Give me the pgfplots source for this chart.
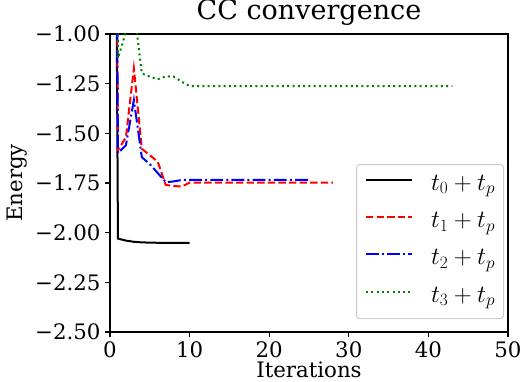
\documentclass[border=0pt]{standalone}
\usepackage{fontspec}
\setmainfont{DejaVu Serif}
\usepackage{pgfplots}
\pgfplotsset{compat=1.18}
\definecolor{mplgreen}{rgb}{0,0.5,0}
\begin{document}
\begin{tikzpicture}[x=1pt,y=1pt]
\path[use as bounding box] (0,0) rectangle (530,382);
\begin{axis}[
  at={(110pt,50pt)}, anchor=south west,
  width=398pt, height=298pt, scale only axis,
  xmin=0, xmax=50, ymin=-2.5, ymax=-1.0,
  /pgf/number format/assume math mode=true,
  xtick={0,10,20,30,40,50},
  xticklabels={0,10,20,30,40,50},
  ytick={-2.5,-2.25,-2.0,-1.75,-1.5,-1.25,-1.0},
  yticklabels={−2.50,−2.25,−2.00,−1.75,−1.50,−1.25,−1.00},
  tick align=outside, tick pos=left,
  major tick length=4.67pt,
  tick style={black, line width=1.07pt},
  axis line style={line width=1.07pt},
  ticklabel style={font=\fontsize{21.3}{25}\selectfont, inner sep=0pt},
  yticklabel style={xshift=-4.67pt},
  xticklabel style={yshift=-4.67pt},
  title={CC convergence},
  title style={font=\fontsize{27}{32}\selectfont, anchor=base, at={(0.5,1)}, yshift=8pt, inner sep=0pt},
  xlabel={Iterations}, ylabel={Energy},
  label style={font=\fontsize{21.3}{25}\selectfont},
  xlabel style={at={(axis description cs:0.5,0)}, anchor=base, yshift=-46pt, inner sep=0pt},
  ylabel style={at={(axis description cs:-0.2324,0.5)}, anchor=center, inner sep=0pt},
  legend style={at={(0.99,0.0436)}, anchor=south east, draw=black!20, line width=1pt,
    rounded corners=3pt, fill=white, font=\fontsize{23.5}{27}\selectfont,
    nodes={inner sep=0pt, text height=15pt, text depth=6pt},
    row sep=16.3pt, column sep=18pt, inner xsep=8.5pt, inner ysep=10.5pt},
  legend cell align=left,
  legend image code/.code={\draw[#1] (0pt,6pt) -- (46pt,6pt);},
]
\addplot[black, line width=2pt] coordinates {
(0,5) (1,-2.030) (2,-2.040) (3,-2.046) (4,-2.049) (5,-2.050) (6,-2.051) (7,-2.051) (8,-2.051) (9,-2.051) (10,-2.051)};
\addlegendentry{$t_0+t_p$}
\addplot[red, line width=2pt, dash pattern=on 7.4pt off 3.2pt] coordinates {
(0,5) (1,-1.585) (2,-1.52) (3,-1.173) (4,-1.578) (5,-1.61) (6,-1.643) (7,-1.76) (8,-1.765) (9,-1.768) (10,-1.748)
(11,-1.748) (12,-1.748) (13,-1.748) (14,-1.748) (15,-1.748) (16,-1.748) (17,-1.748) (18,-1.748) (19,-1.748) (20,-1.748)
(21,-1.748) (22,-1.748) (23,-1.748) (24,-1.748) (25,-1.748) (26,-1.748) (27,-1.748) (28,-1.748)};
\addlegendentry{$t_1+t_p$}
\addplot[blue, line width=2pt, dash pattern=on 12.8pt off 3.2pt on 2pt off 3.2pt] coordinates {
(0,5) (1,-1.60) (2,-1.56) (3,-1.333) (4,-1.62) (5,-1.655) (6,-1.70) (7,-1.746) (8,-1.742) (9,-1.735) (10,-1.734)
(11,-1.734) (12,-1.734) (13,-1.734) (14,-1.734) (15,-1.734) (16,-1.734) (17,-1.734) (18,-1.734) (19,-1.734) (20,-1.734)
(21,-1.734) (22,-1.734) (23,-1.734) (24,-1.734) (25,-1.734)};
\addlegendentry{$t_2+t_p$}
\addplot[mplgreen, line width=2pt, dash pattern=on 2pt off 3.3pt] coordinates {
(0,5) (1,-1.122) (2,-0.99) (3,-0.87) (4,-1.198) (5,-1.215) (6,-1.228) (7,-1.213) (8,-1.215) (9,-1.24) (10,-1.262)
(11,-1.262) (12,-1.262) (13,-1.262) (14,-1.262) (15,-1.262) (16,-1.262) (17,-1.262) (18,-1.262) (19,-1.262) (20,-1.262)
(21,-1.262) (22,-1.262) (23,-1.262) (24,-1.262) (25,-1.262) (26,-1.262) (27,-1.262) (28,-1.262) (29,-1.262) (30,-1.262)
(31,-1.262) (32,-1.262) (33,-1.262) (34,-1.262) (35,-1.262) (36,-1.262) (37,-1.262) (38,-1.262) (39,-1.262) (40,-1.262)
(41,-1.262) (42,-1.262) (43,-1.262)};
\addlegendentry{$t_3+t_p$}
\end{axis}
\end{tikzpicture}
\end{document}
